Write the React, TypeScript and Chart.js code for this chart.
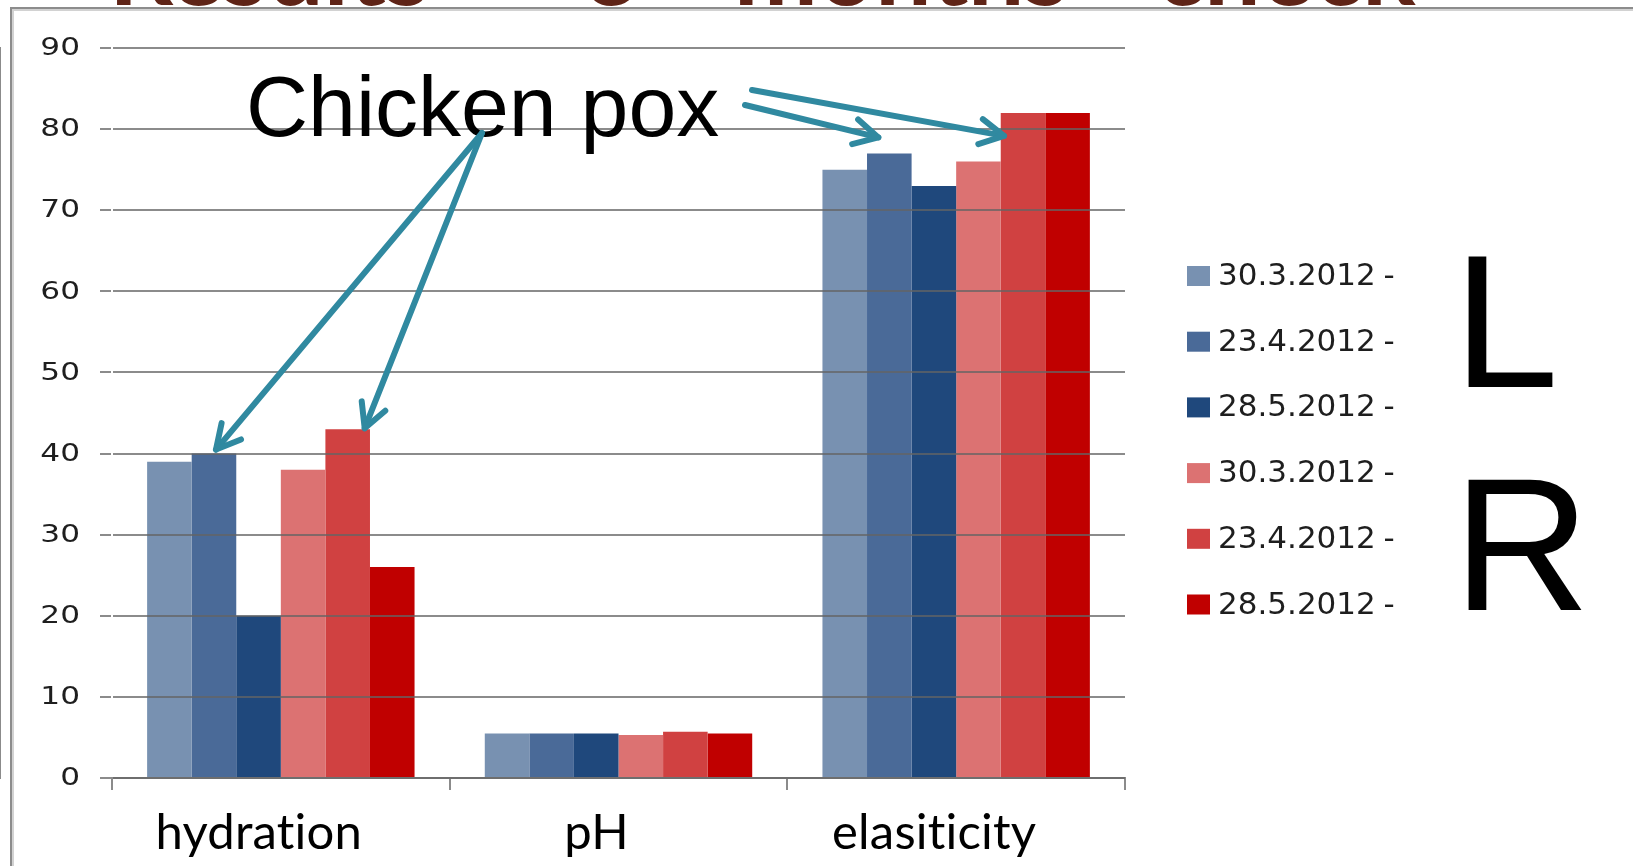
import React, { useEffect, useRef } from "react";
import { Chart, registerables } from "chart.js";

Chart.register(...registerables);

// Measured skin parameters per visit date (left side: L, right side: R)
const categories = ["hydration", "pH", "elasiticity"];
const seriesLabels = ["30.3.2012 -", "23.4.2012 -", "28.5.2012 -", "30.3.2012 -", "23.4.2012 -", "28.5.2012 -"];
const seriesColors = ["#7891b1", "#4a6a98", "#1f487c", "#dc7272", "#d04141", "#c00000"];
const left3003 = [39, 5.5, 75];
const left2304 = [40, 5.5, 77];
const left2805 = [20, 5.5, 73];
const right3003 = [38, 5.3, 76];
const right2304 = [43, 5.7, 82];
const right2805 = [26, 5.5, 82];
const seriesValues = [left3003, left2304, left2805, right3003, right2304, right2805];

const yMin = 0;
const yMax = 90;
const yStep = 10;

const titleText = "Results – 3 months check";
const noteText = "Chicken pox";
const sideLetters = ["L", "R"];

// Word start positions for the slide title, which runs off the top edge
const titleWordX = [109, 480, 583, 734, 1156];

// Arrow targets: dataset, category index, pixel nudge from the bar's top centre
const arrowTargets = [
  { tail: [482, 133], ds: 1, idx: 0, dx: 2, dy: -4 },
  { tail: [482, 133], ds: 4, idx: 0, dx: 17, dy: -1 },
  { tail: [745, 105], ds: 1, idx: 2, dx: -11, dy: -16 },
  { tail: [752, 90], ds: 4, idx: 2, dx: -19, dy: 23 },
];

const GRID = "rgba(100,100,100,0.75)";
const ARROW = "#3089a0";

function drawArrow(ctx: CanvasRenderingContext2D, x0: number, y0: number, x1: number, y1: number) {
  ctx.beginPath();
  ctx.moveTo(x0, y0);
  ctx.lineTo(x1, y1);
  ctx.stroke();
  const ang = Math.atan2(y0 - y1, x0 - x1);
  const len = 27;
  const spread = (28 * Math.PI) / 180;
  ctx.beginPath();
  ctx.moveTo(x1 + len * Math.cos(ang + spread), y1 + len * Math.sin(ang + spread));
  ctx.lineTo(x1, y1);
  ctx.lineTo(x1 + len * Math.cos(ang - spread), y1 + len * Math.sin(ang - spread));
  ctx.stroke();
}

function drawFrame(ctx: CanvasRenderingContext2D, w: number, h: number) {
  ctx.fillStyle = "#d2d2d2";
  ctx.fillRect(12, 9, w, 2);
  ctx.fillRect(12, 9, 2, h);
  ctx.fillStyle = "#8c8c8c";
  ctx.fillRect(10, 7, w, 2);
  ctx.fillRect(10, 7, 2, h);
}

const decorPlugin = {
  id: "decor",
  beforeDraw(chart: any) {
    const ctx: CanvasRenderingContext2D = chart.ctx;
    ctx.save();
    // slide title, mostly above the frame
    ctx.font = 'bold 100px "Lato"';
    ctx.fillStyle = "#5f2417";
    ctx.textBaseline = "alphabetic";
    ctx.textAlign = "left";
    titleText.split(" ").forEach((w, i) => ctx.fillText(w, titleWordX[i], 5));
    ctx.restore();
    // keep the axis labels free of ligatures
    (ctx as any).letterSpacing = "0.2px";
  },
  afterDraw(chart: any) {
    const ctx: CanvasRenderingContext2D = chart.ctx;
    (ctx as any).letterSpacing = "0px";
    const y = chart.scales.y;
    ctx.save();
    drawFrame(ctx, chart.width, chart.height);

    // y tick labels, drawn wide
    ctx.font = '24px "DejaVu Sans"';
    ctx.fillStyle = "#1e1e1e";
    ctx.textAlign = "right";
    ctx.textBaseline = "middle";
    y.ticks.forEach((t: any) => {
      const py = y.getPixelForValue(t.value);
      ctx.save();
      ctx.translate(80, py + 1);
      ctx.scale(1.3, 1);
      ctx.fillText(String(t.value), 0, 0);
      ctx.restore();
    });

    // annotation text and arrows
    ctx.font = '86px "Liberation Sans"';
    ctx.fillStyle = "#000";
    ctx.textAlign = "left";
    ctx.textBaseline = "alphabetic";
    ctx.fillText(noteText, 246, 136);

    ctx.strokeStyle = ARROW;
    ctx.lineWidth = 6;
    ctx.lineCap = "round";
    ctx.lineJoin = "round";
    arrowTargets.forEach((a) => {
      const bar = chart.getDatasetMeta(a.ds).data[a.idx];
      drawArrow(ctx, a.tail[0], a.tail[1], bar.x + a.dx, bar.y + a.dy);
    });

    // legend
    const rowH = 65.7;
    const top0 = 276;
    chart.data.datasets.forEach((ds: any, i: number) => {
      const cy = top0 + i * rowH;
      ctx.fillStyle = ds.backgroundColor;
      ctx.fillRect(1187, cy - 10, 23, 20);
      ctx.fillStyle = "#1e1e1e";
      ctx.font = '31px "DejaVu Sans"';
      ctx.textBaseline = "middle";
      (ctx as any).wordSpacing = "-2px";
      ctx.fillText(ds.label, 1218, cy + 1);
      (ctx as any).wordSpacing = "0px";
    });

    // side letters
    ctx.fillStyle = "#000";
    ctx.font = '190px "Liberation Sans"';
    ctx.textBaseline = "alphabetic";
    ctx.fillText(sideLetters[0], 1453, 387);
    ctx.fillText(sideLetters[1], 1453, 610);
    ctx.restore();
  },
};

export default function App() {
  const canvasRef = useRef<HTMLCanvasElement | null>(null);

  useEffect(() => {
    const canvas = canvasRef.current;
    if (!canvas) return;
    const chart = new Chart(canvas, {
      type: "bar",
      data: {
        labels: categories,
        datasets: seriesValues.map((vals, i) => ({
          label: seriesLabels[i],
          data: vals,
          backgroundColor: seriesColors[i],
          borderWidth: 0,
          categoryPercentage: 0.792,
          barPercentage: 1,
        })),
      },
      options: {
        animation: false,
        responsive: false,
        maintainAspectRatio: false,
        layout: { padding: { top: 48, right: 508, left: 0, bottom: 0 } },
        plugins: { legend: { display: false }, tooltip: { enabled: false }, title: { display: false } },
        scales: {
          x: {
            grid: { drawOnChartArea: false, drawTicks: true, tickLength: 12, color: GRID, lineWidth: 2, offset: true },
            border: { color: GRID, width: 2, z: 1 },
            ticks: {
              font: { family: "Lato", size: 49 },
              color: "#000",
              labelOffset: -22,
              padding: 14,
              maxRotation: 0,
              autoSkip: false,
            },
            afterFit: (s: any) => {
              s.height = 88;
            },
          },
          y: {
            min: yMin,
            max: yMax,
            ticks: { stepSize: yStep, display: false },
            grid: { color: GRID, lineWidth: 2, tickLength: 12, drawTicks: true, z: 1 },
            border: { color: GRID, width: 2 },
            afterFit: (s: any) => {
              s.width = 112;
            },
          },
        },
      },
      plugins: [decorPlugin],
    });
    return () => chart.destroy();
  }, []);

  return (
    <div style={{ position: "fixed", left: 0, top: 0, width: 1633, height: 866, overflow: "hidden", background: "#fff" }}>
      <canvas ref={canvasRef} width={1633} height={866} style={{ display: "block", width: 1633, height: 866 }} />
    </div>
  );
}
